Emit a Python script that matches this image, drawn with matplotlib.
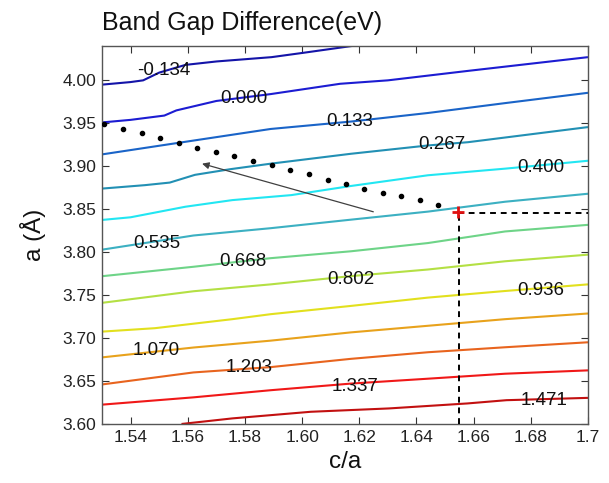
import matplotlib
matplotlib.use("Agg")
import matplotlib.pyplot as plt

plt.rcParams['font.family'] = ['Liberation Sans', 'DejaVu Sans']

# ---------------- data ----------------
levels = [-0.134, 0.000, 0.133, 0.267, 0.400, 0.535, 0.668, 0.802, 0.936, 1.070, 1.203, 1.337, 1.471]
level_labels = ["-0.134", "0.000", "0.133", "0.267", "0.400", "0.535", "0.668",
                "0.802", "0.936", "1.070", "1.203", "1.337", "1.471"]
line_colors = ["#1414a8", "#1c1cd2", "#1a64c8", "#2290b4", "#22e6f2", "#3cb0c2", "#6ed488",
               "#b4e044", "#e2e01e", "#e8a21c", "#e8641e", "#f01818", "#c21010"]

ca_grid = [1.530, 1.562, 1.589, 1.617, 1.644, 1.671, 1.700]

ca_m0134 = [1.530, 1.540, 1.5444, 1.550, 1.5592, 1.5701, 1.5893, 1.6003, 1.6174]
a_m0134 = [3.995, 3.998, 4.000, 4.009, 4.018, 4.022, 4.027, 4.032, 4.040]

ca_0000 = [1.530, 1.540, 1.5518, 1.5560, 1.5700, 1.589, 1.6133, 1.630, 1.658, 1.700]
a_0000 = [3.951, 3.954, 3.959, 3.965, 3.976, 3.984, 3.996, 4.000, 4.011, 4.027]

a_0133 = [3.9138, 3.9299, 3.9434, 3.9520, 3.9620, 3.9735, 3.9855]

ca_0267 = [1.530, 1.545, 1.5537, 1.5625, 1.5747, 1.589, 1.617, 1.644, 1.658, 1.700]
a_0267 = [3.874, 3.878, 3.881, 3.890, 3.8965, 3.903, 3.9145, 3.9242, 3.928, 3.9456]

ca_0400 = [1.530, 1.540, 1.5592, 1.5756, 1.5962, 1.617, 1.644, 1.671, 1.700]
a_0400 = [3.8375, 3.8406, 3.8529, 3.8606, 3.8664, 3.877, 3.8895, 3.8972, 3.9064]

a_0535 = [3.8029, 3.8194, 3.8279, 3.8378, 3.8472, 3.8587, 3.8680]
a_0668 = [3.7720, 3.7830, 3.7930, 3.8010, 3.8106, 3.8241, 3.8318]
a_0802 = [3.7410, 3.7545, 3.7625, 3.7721, 3.7798, 3.7894, 3.7971]

ca_0936 = [1.530, 1.5485, 1.5756, 1.589, 1.617, 1.644, 1.671, 1.700]
a_0936 = [3.7075, 3.7115, 3.7220, 3.7278, 3.7374, 3.7471, 3.7548, 3.7625]

a_1070 = [3.6775, 3.6890, 3.6970, 3.7066, 3.7143, 3.7220, 3.7286]
a_1203 = [3.6460, 3.6600, 3.6662, 3.6758, 3.6835, 3.6893, 3.6951]
a_1337 = [3.6225, 3.6310, 3.6393, 3.6470, 3.6527, 3.6585, 3.6624]

ca_1471 = [1.5578, 1.5756, 1.6030, 1.6304, 1.6578, 1.6715, 1.700]
a_1471 = [3.600, 3.6065, 3.6142, 3.6181, 3.6239, 3.6277, 3.6304]

label_ca = [1.5516, 1.5797, 1.6167, 1.6489, 1.6836, 1.5493, 1.5793, 1.6171, 1.6836,
            1.5489, 1.5814, 1.6185, 1.6845]
label_a = [4.0115, 3.9788, 3.9519, 3.9253, 3.8984, 3.8106, 3.7894, 3.7682, 3.7555,
           3.6855, 3.6654, 3.6431, 3.6277]

path_ca = [1.5307, 1.5373, 1.5441, 1.5503, 1.5568, 1.5633, 1.5699, 1.5763, 1.5829, 1.5893,
           1.5959, 1.6023, 1.6089, 1.6153, 1.6215, 1.6284, 1.6345, 1.6411, 1.6475]
path_a = [3.9492, 3.9434, 3.9384, 3.9334, 3.9272, 3.9215, 3.9165, 3.9118, 3.9061, 3.9011,
          3.8961, 3.8910, 3.8845, 3.8795, 3.8741, 3.8691, 3.8653, 3.8603, 3.8549]

point_ca = 1.6545
point_a = 3.847
arrow_tail = (1.6249, 3.847)
arrow_head = (1.5650, 3.903)

x_ticks = [1.54, 1.56, 1.58, 1.60, 1.62, 1.64, 1.66, 1.68, 1.70]
x_ticklabels = ["1.54", "1.56", "1.58", "1.60", "1.62", "1.64", "1.66", "1.68", "1.7"]
y_ticks = [3.60, 3.65, 3.70, 3.75, 3.80, 3.85, 3.90, 3.95, 4.00]
y_ticklabels = ["3.60", "3.65", "3.70", "3.75", "3.80", "3.85", "3.90", "3.95", "4.00"]

line_x = [ca_m0134, ca_0000, ca_grid, ca_0267, ca_0400, ca_grid, ca_grid, ca_grid,
          ca_0936, ca_grid, ca_grid, ca_grid, ca_1471]
line_y = [a_m0134, a_0000, a_0133, a_0267, a_0400, a_0535, a_0668, a_0802,
          a_0936, a_1070, a_1203, a_1337, a_1471]

# ---------------- figure ----------------
fig = plt.figure(figsize=(6.09, 4.83), dpi=100)
ax = fig.add_axes([0.1675, 0.1222, 0.7980, 0.7826])

for xs, ys, c in zip(line_x, line_y, line_colors):
    ax.plot(xs, ys, color=c, lw=1.5, solid_capstyle='butt', zorder=2)

for lx, ly, t in zip(label_ca, label_a, level_labels):
    ax.text(lx, ly, t, ha='center', va='center', fontsize=13.5, color='#111111', zorder=4)

ax.plot(path_ca, path_a, ls='none', marker='o', ms=3, color='black', zorder=5)

ax.annotate("", xy=arrow_head, xytext=arrow_tail,
            arrowprops=dict(arrowstyle='-|>', color='#404040', lw=0.9,
                            mutation_scale=10, shrinkA=0, shrinkB=0), zorder=5)

ax.plot([point_ca, 1.70], [point_a - 0.001, point_a - 0.001], ls=(0, (3, 2.5)), color='black', lw=1.4, zorder=5)
ax.plot([point_ca + 0.0005, point_ca + 0.0005], [3.60, point_a], ls=(0, (3, 2.5)), color='black', lw=1.4, zorder=5)
ax.plot([point_ca], [point_a], marker='+', ms=9, mew=2, color='#e01010', zorder=6)

ax.set_xlim(1.53, 1.70)
ax.set_ylim(3.60, 4.04)
ax.set_xticks(x_ticks)
ax.set_xticklabels(x_ticklabels)
ax.set_yticks(y_ticks)
ax.set_yticklabels(y_ticklabels)
ax.tick_params(direction='in', top=True, right=True, length=5, width=0.8,
               labelsize=12.5, colors='#333333', labelcolor='#222222', pad=4)
for s in ax.spines.values():
    s.set_color('#555555')
    s.set_linewidth(1.0)

fig.text(0.1675, 0.938, "Band Gap Difference(eV)", ha='left', va='baseline', fontsize=18, color='#111111')
ax.set_xlabel("c/a", fontsize=17.5, color='#111111', labelpad=5)
ax.set_ylabel("a (Å)", fontsize=17.5, color='#111111', labelpad=12)

fig.savefig("out.png", dpi=100)
